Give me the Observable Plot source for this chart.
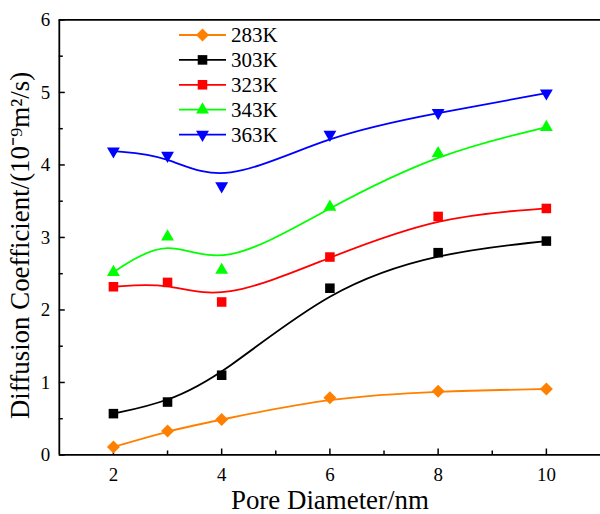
<!DOCTYPE html>
<html><head><meta charset="utf-8">
<script src="https://cdn.jsdelivr.net/npm/d3@7"></script>
<script src="https://cdn.jsdelivr.net/npm/@observablehq/plot@0.6"></script>
<style>
html,body{margin:0;padding:0;background:#fff;overflow:hidden}
#wrap{position:relative;width:600px;height:514px;overflow:hidden}
#wrap svg{display:block}
#wrap svg text{font-family:"Liberation Serif","Times New Roman",serif !important}
#legend{position:absolute;left:0;top:0;pointer-events:none}
</style></head><body><div id="wrap"></div>
<script>
// ---- data ----
const poreDiameter = [2, 3, 4, 6, 8, 10];
const seriesNames = ["283K", "303K", "323K", "343K", "363K"];
const d283 = [0.11, 0.33, 0.49, 0.79, 0.88, 0.91];
const d303 = [0.57, 0.73, 1.10, 2.30, 2.79, 2.95];
const d323 = [2.32, 2.38, 2.11, 2.73, 3.29, 3.40];
const d343 = [2.52, 3.01, 2.55, 3.42, 4.16, 4.52];
const d363 = [4.19, 4.13, 3.71, 4.42, 4.72, 4.99];
const seriesValues = [d283, d303, d323, d343, d363];
const colors = ["#FF8000", "#000000", "#FF0000", "#00FF00", "#0000FF"];
const symbols = ["square", "square", "square", "triangle", "triangle"];
const rotations = [45, 0, 0, 0, 180];
const radii = [5.2, 5.4, 5.4, 4.8, 4.8];
const xTicks = [2, 4, 6, 8, 10];
const xMinor = [3, 5, 7, 9];
const yTicks = [0, 1, 2, 3, 4, 5, 6];
const yMinor = [0.5, 1.5, 2.5, 3.5, 4.5, 5.5];
const xDomain = [1, 11];
const yDomain = [0, 6];
const xTitle = "Pore Diameter/nm";
const yTitle = "Diffusion Coefficient/(10\u207B\u2079m\u00B2/s)";

const FONT = "Liberation Serif, Times New Roman, serif";

const rows = [];
seriesNames.forEach((s, i) => poreDiameter.forEach((x, j) => rows.push({series: s, idx: i, x, y: seriesValues[i][j]})));

const marks = [];
// axes lines
marks.push(Plot.ruleX([xDomain[0]], {stroke: "#000", strokeWidth: 1.8}));
marks.push(Plot.ruleY([yDomain[0], yDomain[1]], {stroke: "#000", strokeWidth: 1.8}));
// ticks (inward)
marks.push(Plot.axisX({ticks: xTicks, tickSize: -6, fill: "none", label: null, strokeWidth: 1.5}));
marks.push(Plot.axisX({ticks: xMinor, tickSize: -4, fill: "none", label: null, strokeWidth: 1.5}));
marks.push(Plot.axisY({ticks: yTicks, tickSize: -6, fill: "none", label: null, strokeWidth: 1.5}));
marks.push(Plot.axisY({ticks: yMinor, tickSize: -4, fill: "none", label: null, strokeWidth: 1.5}));
// tick labels
marks.push(Plot.axisX({ticks: xTicks, tickSize: 0, tickPadding: 13, tickFormat: d => String(d), label: null, fontSize: 19, fill: "#000"}));
marks.push(Plot.axisY({ticks: yTicks, tickSize: 0, tickPadding: 9, tickFormat: d => String(d), label: null, fontSize: 19, fill: "#000"}));
// series
seriesNames.forEach((s, i) => {
  const data = rows.filter(r => r.idx === i);
  marks.push(Plot.line(data, {x: "x", y: "y", curve: "basis", stroke: colors[i], strokeWidth: 1.8}));
  marks.push(Plot.dot(data, {x: "x", y: "y", symbol: symbols[i], r: radii[i], rotate: rotations[i], fill: colors[i], stroke: "none"}));
});
// titles
marks.push(Plot.text([xTitle], {text: d => d, frameAnchor: "bottom", textAnchor: "middle", dy: 46, fontSize: 27, lineAnchor: "middle", fill: "#000"}));
marks.push(Plot.text([yTitle], {text: d => d, frameAnchor: "left", textAnchor: "middle", rotate: -90, dx: -39, dy: 8, fontSize: 27, lineAnchor: "middle", fill: "#000"}));

const chart = Plot.plot({
  width: 602,
  height: 514,
  marginLeft: 59,
  marginRight: 0,
  marginTop: 19.5,
  marginBottom: 58,
  x: {domain: xDomain},
  y: {domain: yDomain},
  style: {fontFamily: FONT, color: "#000", background: "#fff", overflow: "visible"},
  marks
});
const wrap = document.getElementById("wrap");
wrap.appendChild(chart);

// legend overlay
const leg = d3.select(wrap).append("svg").attr("id", "legend").attr("width", 600).attr("height", 514);
const symMap = {square: d3.symbolSquare, triangle: d3.symbolTriangle};
seriesNames.forEach((s, i) => {
  const y = 35 + i * 24.9;
  const g = leg.append("g").attr("transform", `translate(0,${y})`);
  g.append("line").attr("x1", 179).attr("x2", 226).attr("y1", 0).attr("y2", 0).attr("stroke", colors[i]).attr("stroke-width", 1.8);
  g.append("path").attr("d", d3.symbol(symMap[symbols[i]], Math.PI * radii[i] * radii[i])())
    .attr("transform", `translate(202.5,0) rotate(${rotations[i]})`).attr("fill", colors[i]);
  g.append("text").attr("x", 231).attr("y", 0).attr("dy", "0.35em").attr("font-size", 21).attr("fill", "#000").text(s);
});
</script></body></html>
